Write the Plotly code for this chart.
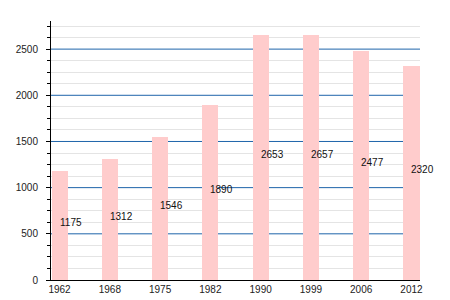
import plotly.graph_objects as go

years = ["1962", "1968", "1975", "1982", "1990", "1999", "2006", "2012"]
population = [1175, 1312, 1546, 1890, 2653, 2657, 2477, 2320]
y_ticks = [0, 500, 1000, 1500, 2000, 2500]

fig = go.Figure()
fig.add_trace(go.Bar(
    x=years, y=population, width=0.32,
    marker=dict(color="#ffcccc", line=dict(width=0)),
    hoverinfo="skip",
))

for i, v in enumerate(population):
    fig.add_annotation(
        x=i, y=v / 2, text=str(v), showarrow=False,
        xanchor="left", yanchor="middle", xshift=-2, yshift=3,
        font=dict(family="Liberation Sans, Arial, sans-serif", size=10, color="#111111"),
    )

# major gridlines drawn as data-anchored horizontal lines beneath the bars
for t in y_ticks[1:]:
    fig.add_hline(y=t, line=dict(color="rgb(30,100,170)", width=1), layer="below")

fig.update_layout(
    width=450, height=300,
    margin=dict(l=51, r=30, t=21, b=20),
    paper_bgcolor="white", plot_bgcolor="white",
    showlegend=False,
    font=dict(family="Liberation Sans, Arial, sans-serif", size=10, color="#222222"),
    bargap=0,
)
fig.update_xaxes(
    type="category", range=[-0.17, 7.17], automargin=False,
    showline=True, linecolor="black", linewidth=1,
    showgrid=False, ticks="", ticklabelstandoff=0,
    tickfont=dict(size=10),
)
fig.update_yaxes(
    range=[0, 2804.35], tickvals=y_ticks, automargin=False,
    showline=True, linecolor="black", linewidth=1,
    showgrid=False,
    zeroline=False,
    ticks="outside", ticklen=4, tickcolor="black",
    ticklabelstandoff=6,
    minor=dict(tickvals=[v for v in range(125, 2800, 125) if v % 500],
               showgrid=True, gridcolor="#e4e4e4", gridwidth=1,
               ticks="outside", ticklen=3, tickcolor="black"),
    tickfont=dict(size=10),
)

fig.write_html("out.html")
